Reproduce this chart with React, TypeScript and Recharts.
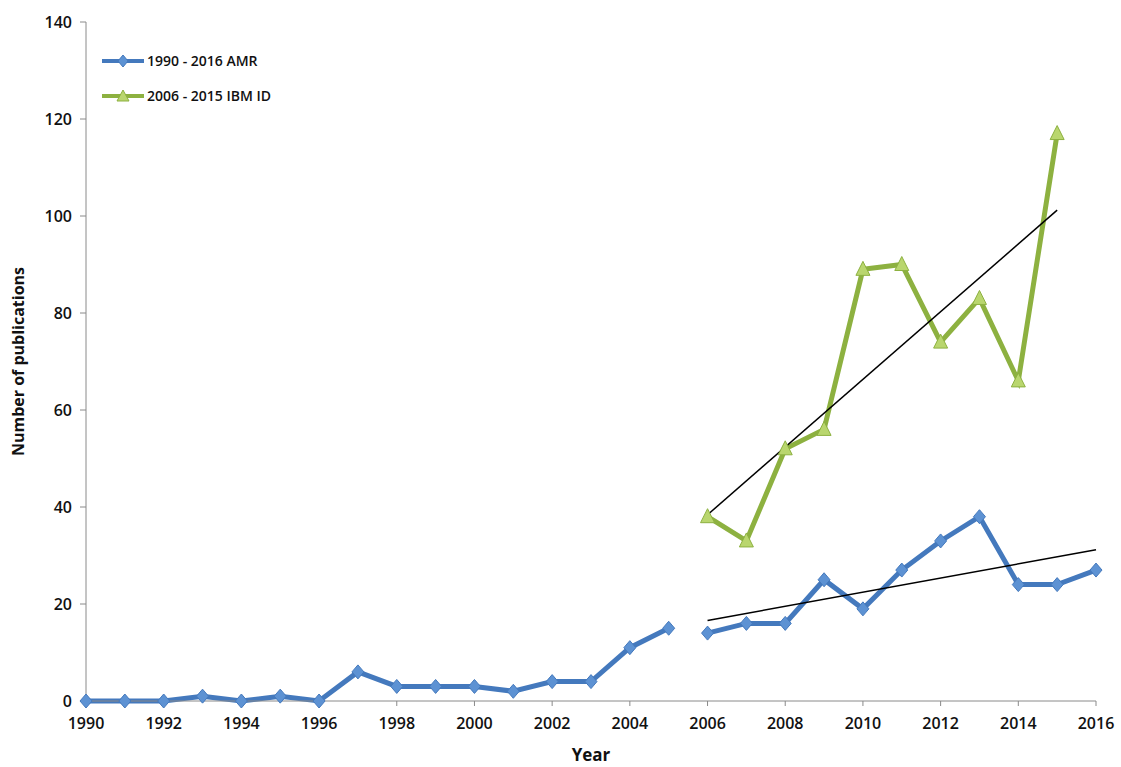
import React from 'react'
import {
  LineChart,
  Line,
  XAxis,
  YAxis,
} from 'recharts'

// years + publication counts
const amrEarlyYears = [1990, 1991, 1992, 1993, 1994, 1995, 1996, 1997, 1998, 1999, 2000, 2001, 2002, 2003, 2004, 2005]
const amrEarlyCounts = [0, 0, 0, 1, 0, 1, 0, 6, 3, 3, 3, 2, 4, 4, 11, 15]

const amrLateYears = [2006, 2007, 2008, 2009, 2010, 2011, 2012, 2013, 2014, 2015, 2016]
const amrLateCounts = [14, 16, 16, 25, 19, 27, 33, 38, 24, 24, 27]

const ibmYears = [2006, 2007, 2008, 2009, 2010, 2011, 2012, 2013, 2014, 2015]
const ibmCounts = [38, 33, 52, 56, 89, 90, 74, 83, 66, 117]

// trend line end points
const amrTrendYears = [2006, 2016]
const amrTrendValues = [16.6, 31.2]
const ibmTrendYears = [2006, 2015]
const ibmTrendValues = [38.4, 101.2]

const xTicks = [1990, 1992, 1994, 1996, 1998, 2000, 2002, 2004, 2006, 2008, 2010, 2012, 2014, 2016]
const yTicks = [0, 20, 40, 60, 80, 100, 120, 140]

const toRows = (xs: number[], ys: number[]) => xs.map((year, i) => ({ year, value: ys[i] }))

const amrEarly = toRows(amrEarlyYears, amrEarlyCounts)
const amrLate = toRows(amrLateYears, amrLateCounts)
const ibm = toRows(ibmYears, ibmCounts)
const amrTrend = toRows(amrTrendYears, amrTrendValues)
const ibmTrend = toRows(ibmTrendYears, ibmTrendValues)

const BLUE = '#4479bd'
const BLUE_FILL = '#5d92d3'
const GREEN = '#8db140'
const GREEN_FILL = '#b9d66e'
const FONT = '"Open Sans", "Liberation Sans", sans-serif'

const Diamond = (props: any) => {
  const { cx, cy } = props
  if (cx == null || cy == null) return null
  return (
    <polygon
      key={`d-${cx}-${cy}`}
      points={`${cx},${cy - 7} ${cx + 6},${cy} ${cx},${cy + 7} ${cx - 6},${cy}`}
      fill={BLUE_FILL}
      stroke={BLUE}
      strokeWidth={1}
    />
  )
}

const Triangle = (props: any) => {
  const { cx, cy } = props
  if (cx == null || cy == null) return null
  return (
    <polygon
      key={`t-${cx}-${cy}`}
      points={`${cx},${cy - 8} ${cx + 7},${cy + 6} ${cx - 7},${cy + 6}`}
      fill={GREEN_FILL}
      stroke={GREEN}
      strokeWidth={1}
    />
  )
}

const legendItems = [
  { label: '1990 - 2016 AMR', color: BLUE, fill: BLUE_FILL, shape: 'diamond' },
  { label: '2006 - 2015 IBM ID', color: GREEN, fill: GREEN_FILL, shape: 'triangle' },
]

const ChartLegend = () => (
  <div style={{ position: 'absolute', left: 100, top: 43, fontFamily: FONT, fontSize: 14, fontWeight: 600, color: '#111' }}>
    {legendItems.map((item) => (
      <div key={item.label} style={{ display: 'flex', alignItems: 'center', height: 35 }}>
        <svg width={46} height={16} style={{ marginRight: 1 }}>
          <line x1={2} y1={8} x2={44} y2={8} stroke={item.color} strokeWidth={4} />
          {item.shape === 'diamond' ? (
            <polygon points="23,2 28,8 23,14 18,8" fill={item.fill} stroke={item.color} />
          ) : (
            <polygon points="23,2 29,13 17,13" fill={item.fill} stroke={item.color} />
          )}
        </svg>
        <span>{item.label}</span>
      </div>
    ))}
  </div>
)

export default function App() {
  return (
    <div style={{ position: 'absolute', left: 0, top: 0, width: 1121, height: 767, background: '#fff' }}>
      <LineChart width={1121} height={767} margin={{ top: 22, right: 25, bottom: 0, left: 26 }}>
        <XAxis
          dataKey="year"
          type="number"
          domain={[1990, 2016]}
          ticks={xTicks}
          allowDuplicatedCategory={false}
          height={66}
          stroke="#8a8a8a"
          tickSize={5}
          tick={{ fontSize: 16, fontWeight: 600, fill: '#111', fontFamily: FONT }}
          tickMargin={12}
          label={{ value: 'Year', position: 'insideBottom', offset: 6, style: { fontSize: 17, fontWeight: 700, fill: '#111', fontFamily: FONT } }}
        />
        <YAxis
          type="number"
          domain={[0, 140]}
          ticks={yTicks}
          width={60}
          stroke="#8a8a8a"
          tickSize={6}
          tick={{ fontSize: 16, fontWeight: 600, fill: '#111', fontFamily: FONT }}
          tickMargin={8}
          label={{ value: 'Number of publications', angle: -90, position: 'insideLeft', offset: -8, style: { textAnchor: 'middle', fontSize: 16, fontWeight: 700, fill: '#111', fontFamily: FONT } }}
        />
        <Line
          data={ibm}
          dataKey="value"
          stroke={GREEN}
          strokeWidth={5}
          dot={Triangle}
          activeDot={false}
          isAnimationActive={false}
        />
        <Line
          data={ibmTrend}
          dataKey="value"
          stroke="#000"
          strokeWidth={1.5}
          dot={false}
          activeDot={false}
          isAnimationActive={false}
        />
        <Line
          data={amrEarly}
          dataKey="value"
          stroke={BLUE}
          strokeWidth={5}
          dot={Diamond}
          activeDot={false}
          isAnimationActive={false}
        />
        <Line
          data={amrLate}
          dataKey="value"
          stroke={BLUE}
          strokeWidth={5}
          dot={Diamond}
          activeDot={false}
          isAnimationActive={false}
        />
        <Line
          data={amrTrend}
          dataKey="value"
          stroke="#000"
          strokeWidth={1.5}
          dot={false}
          activeDot={false}
          isAnimationActive={false}
        />
      </LineChart>
      <ChartLegend />
    </div>
  )
}
